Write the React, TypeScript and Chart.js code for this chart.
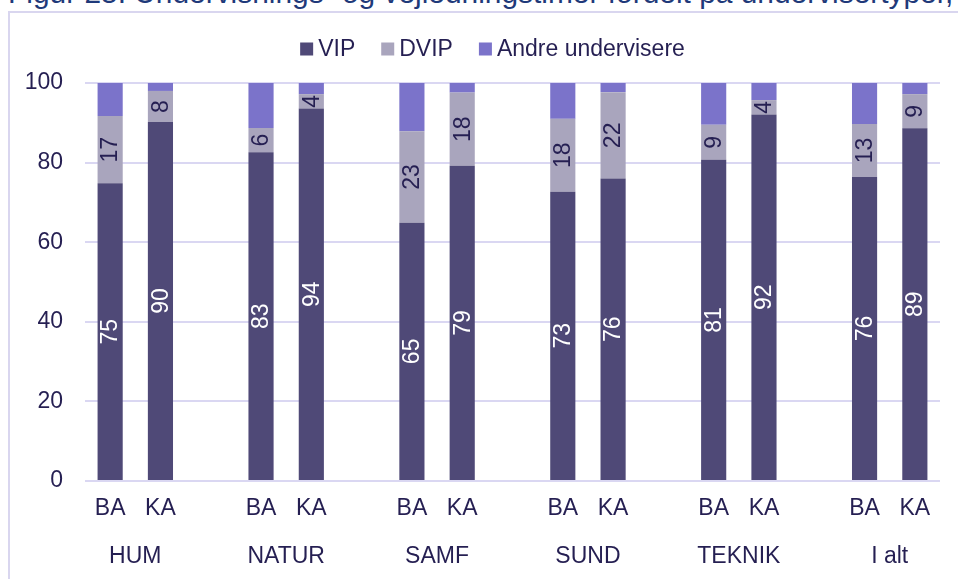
import React, { useEffect, useRef } from "react";
import { Chart, registerables } from "chart.js";

Chart.register(...registerables);

const titleText = "Figur 25: Undervisnings- og vejledningstimer fordelt på undervisertyper,";
const groups = ["HUM", "NATUR", "SAMF", "SUND", "TEKNIK", "I alt"];
const levels = ["BA", "KA"];
const seriesNames = ["VIP", "DVIP", "Andre undervisere"];
const vip = [74.8, 90.2, 82.6, 93.6, 64.9, 79.2, 72.7, 76.0, 80.7, 92.1, 76.4, 88.6];
const dvip = [16.9, 7.8, 6.1, 3.6, 23.0, 18.4, 18.3, 21.7, 8.8, 3.6, 13.3, 8.6];
const andre = [8.3, 2.0, 11.3, 2.8, 12.1, 2.4, 9.0, 2.3, 10.5, 4.3, 10.3, 2.8];
const yTicks = [0, 20, 40, 60, 80, 100];

const colors = ["#4F4977", "#A9A5BD", "#7B73CA"];
const labelColors = ["#FFFFFF", "#251F52"];
const textColor = "#251F52";
const gridColor = "#DAD7F2";
const FONT = "'Liberation Sans', Arial, sans-serif";
const FS = 23;

// build category slots with an empty gap slot between groups
const slotLabels: string[] = [];
const slotIndex: (number | null)[] = [];
groups.forEach((g, gi) => {
  levels.forEach((l, li) => {
    slotLabels.push(l);
    slotIndex.push(gi * 2 + li);
  });
  if (gi < groups.length - 1) {
    slotLabels.push("");
    slotIndex.push(null);
  }
});
const toSlots = (arr: number[]) => slotIndex.map((i) => (i === null ? null : arr[i]));

export default function App() {
  const ref = useRef<HTMLCanvasElement | null>(null);

  useEffect(() => {
    if (!ref.current) return;

    const segLabels = {
      id: "segLabels",
      afterDatasetsDraw(chart: any) {
        const ctx = chart.ctx;
        [0, 1].forEach((di) => {
          const meta = chart.getDatasetMeta(di);
          const ds = chart.data.datasets[di];
          meta.data.forEach((el: any, i: number) => {
            const v = ds.data[i];
            if (v === null || v === undefined) return;
            const { x, y, base } = el.getProps(["x", "y", "base"], true);
            ctx.save();
            ctx.translate(x, (y + base) / 2);
            ctx.rotate(-Math.PI / 2);
            ctx.font = `${FS}px ${FONT}`;
            ctx.fillStyle = labelColors[di];
            ctx.textAlign = "center";
            ctx.textBaseline = "middle";
            ctx.fillText(String(Math.round(v)), 0, 1);
            ctx.restore();
          });
        });
      },
    };

    const groupLabels = {
      id: "groupLabels",
      afterDraw(chart: any) {
        const ctx = chart.ctx;
        const xs = chart.scales.x;
        ctx.save();
        ctx.font = `${FS}px ${FONT}`;
        ctx.fillStyle = textColor;
        ctx.textAlign = "center";
        ctx.textBaseline = "middle";
        groups.forEach((g, gi) => {
          const a = xs.getPixelForValue(gi * 3);
          const b = xs.getPixelForValue(gi * 3 + 1);
          ctx.fillText(g, (a + b) / 2, 557);
        });
        ctx.restore();
      },
    };

    const customLegend = {
      id: "customLegend",
      afterDraw(chart: any) {
        const ctx = chart.ctx;
        ctx.save();
        ctx.font = `${FS}px ${FONT}`;
        const box = 13;
        const gapText = 5;
        const gapItem = 26;
        const widths = seriesNames.map((n) => box + gapText + ctx.measureText(n).width);
        const total = widths.reduce((s, w) => s + w, 0) + gapItem * (widths.length - 1);
        let x = 492.5 - total / 2;
        const cy = 49;
        seriesNames.forEach((n, i) => {
          ctx.fillStyle = colors[i];
          ctx.fillRect(x, cy - box / 2, box, box);
          ctx.fillStyle = textColor;
          ctx.textAlign = "left";
          ctx.textBaseline = "middle";
          ctx.fillText(n, x + box + gapText, cy + 1);
          x += widths[i] + gapItem;
        });
        ctx.restore();
      },
    };

    const chart = new Chart(ref.current, {
      type: "bar",
      data: {
        labels: slotLabels,
        datasets: [vip, dvip, andre].map((arr, i) => ({
          label: seriesNames[i],
          data: toSlots(arr),
          backgroundColor: colors[i],
          borderWidth: 0,
          categoryPercentage: 1,
          barPercentage: 0.5,
        })),
      },
      options: {
        responsive: false,
        animation: false,
        layout: { padding: { top: 83, right: 18, bottom: 0, left: 0 } },
        plugins: {
          legend: { display: false },
          tooltip: { enabled: false },
          title: { display: false },
        },
        scales: {
          x: {
            stacked: true,
            grid: { display: false, drawTicks: false },
            border: { display: false },
            ticks: {
              color: textColor,
              font: { family: FONT, size: FS },
              padding: 14,
              maxRotation: 0,
              autoSkip: false,
            },
            afterFit: (s: any) => {
              s.height = 98;
            },
          },
          y: {
            stacked: true,
            min: 0,
            max: 100,
            afterBuildTicks: (s: any) => {
              s.ticks = yTicks.map((v) => ({ value: v }));
            },
            grid: { color: gridColor, lineWidth: 2, drawTicks: false },
            border: { display: false },
            ticks: {
              color: textColor,
              font: { family: FONT, size: FS },
              padding: 22,
            },
            afterFit: (s: any) => {
              s.width = 85;
            },
          },
        },
      },
      plugins: [segLabels, groupLabels, customLegend],
    } as any);

    return () => chart.destroy();
  }, []);

  return (
    <div
      style={{
        position: "fixed",
        left: 0,
        top: 0,
        width: 958,
        height: 579,
        overflow: "hidden",
        background: "#FFFFFF",
      }}
    >
      <div
        style={{
          position: "absolute",
          left: 8,
          top: -22.4,
          whiteSpace: "nowrap",
          fontFamily: FONT,
          fontSize: 29.9,
          lineHeight: "29.9px",
          color: "#1F3A7A",
        }}
      >
        {titleText}
      </div>
      <div
        style={{
          position: "absolute",
          left: 8,
          top: 11,
          width: 1000,
          height: 1000,
          borderLeft: "2px solid #D9D6EF",
          borderTop: "2px solid #D9D6EF",
        }}
      />
      <canvas
        ref={ref}
        width={958}
        height={579}
        style={{ position: "absolute", left: 0, top: 0, width: 958, height: 579 }}
      />
    </div>
  );
}
